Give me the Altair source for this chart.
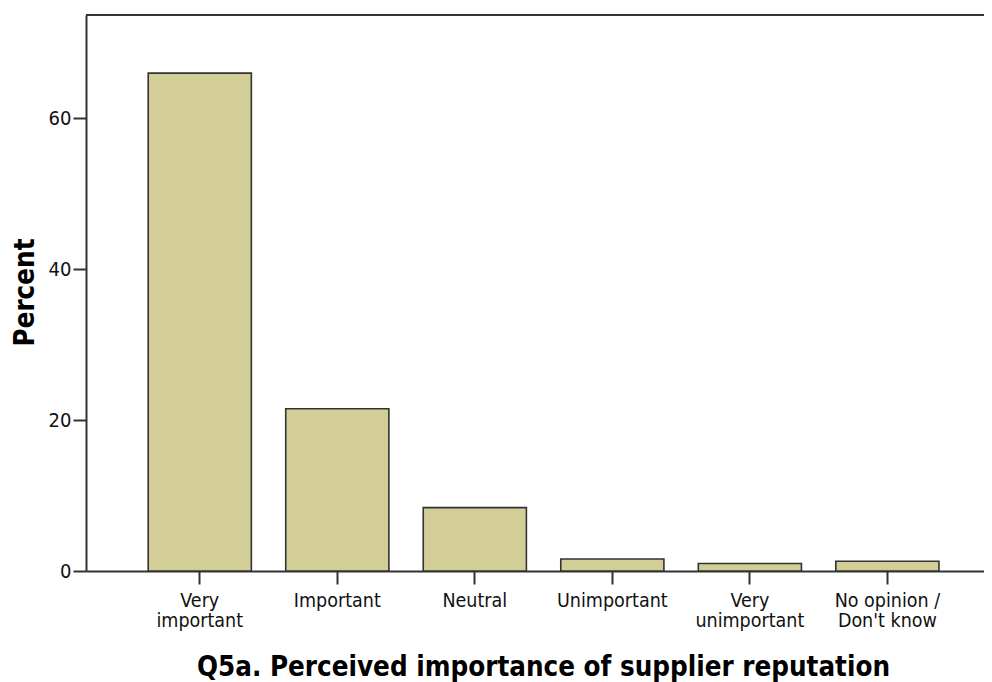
import altair as alt
import pandas as pd

categories = ["Very\nimportant", "Important", "Neutral", "Unimportant", "Very\nunimportant", "No opinion /\nDon't know"]
percent = [66.0, 21.5, 8.4, 1.6, 1.0, 1.3]
y_ticks = [0, 20, 40, 60]
y_max = 73.7

df = pd.DataFrame({"category": categories, "percent": percent})

FONT = "DejaVu Sans Condensed, DejaVu Sans"

bars = alt.Chart(df).mark_bar(
    fill="#D3CE97", stroke="#333333", strokeWidth=1.6
).encode(
    x=alt.X("category:N", sort=categories,
            scale=alt.Scale(paddingInner=0.25, paddingOuter=0.39, align=0.58),
            axis=alt.Axis(
                title="Q5a. Perceived importance of supplier reputation",
                labelAngle=0, labelExpr="split(datum.value, '\\n')",
                labelFont=FONT, labelFontSize=19.5, labelColor="#111111",
                labelLineHeight=20, labelPadding=7, labelBaseline="top",
                tickSize=13, tickColor="#333333", tickWidth=2,
                domainColor="#333333", domainWidth=2,
                titleFont=FONT, titleFontSize=27.5, titleFontWeight="bold", titleColor="#000000",
                titleX=457, titleY=82, titleAlign="center", titleBaseline="top",
            )),
    y=alt.Y("percent:Q", scale=alt.Scale(domain=[0, y_max], nice=False),
            axis=alt.Axis(
                title="Percent", values=y_ticks, grid=False,
                labelFont=FONT, labelFontSize=20, labelColor="#111111", labelPadding=2,
                tickSize=13, tickColor="#333333", tickWidth=2,
                domainColor="#333333", domainWidth=2,
                titleFont=FONT, titleFontSize=27.5, titleFontWeight="bold", titleColor="#000000",
                titleAngle=270, titleX=-52.5, titleY=277, titleAlign="center", titleBaseline="alphabetic",
            )),
)

top_df = pd.DataFrame({"top": [y_max]})
top_line = alt.Chart(top_df).mark_rule(color="#333333", strokeWidth=2).encode(
    y=alt.Y("top:Q")
)

chart = alt.layer(bars, top_line).properties(
    width=898, height=556,
    autosize=alt.AutoSizeParams(type="none"),
    padding={"left": 78, "top": 7, "right": 0, "bottom": 111},
).configure_view(stroke=None, fill="#EFEFEF").configure(background="white")

chart.save("out.html", embed_options={"renderer": "svg", "actions": False})
